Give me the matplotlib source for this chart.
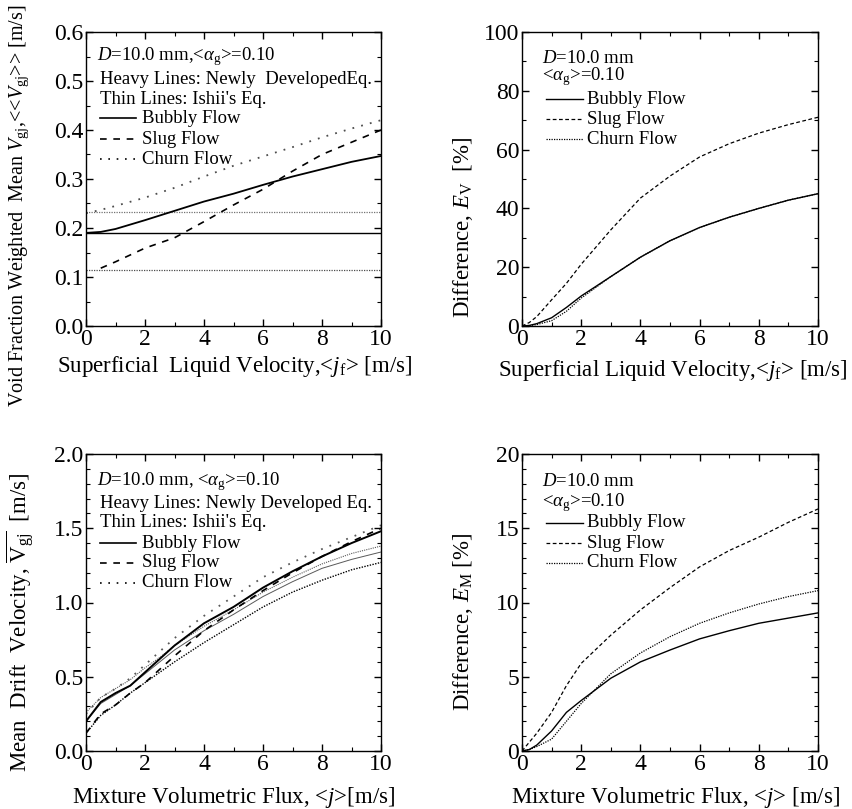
import numpy as np
import matplotlib
matplotlib.use("Agg")
import matplotlib.pyplot as plt
from matplotlib.ticker import MultipleLocator, FormatStrFormatter
from matplotlib.lines import Line2D

plt.rcParams['font.family'] = ['Liberation Serif', 'DejaVu Serif']
plt.rcParams['mathtext.fontset'] = 'custom'
plt.rcParams['mathtext.rm'] = 'Liberation Serif'
plt.rcParams['mathtext.it'] = 'Liberation Serif:italic'
plt.rcParams['mathtext.bf'] = 'Liberation Serif:bold'

# ---- panel (a): void fraction weighted mean drift velocity vs <jf>
jf = [0, 0.5, 1, 2, 3, 4, 5, 6, 7, 8, 9, 10]
vgj_bub_new = [0.190, 0.192, 0.198, 0.216, 0.235, 0.254, 0.270, 0.288, 0.305, 0.320, 0.335, 0.347]
vgj_slug_new = [None, 0.118, 0.131, 0.159, 0.180, 0.213, 0.247, 0.279, 0.316, 0.350, 0.375, 0.400]
vgj_churn_new = [0.230, 0.237, 0.245, 0.262, 0.282, 0.305, 0.327, 0.346, 0.365, 0.385, 0.403, 0.420]
jf_ishii = [0, 10]
vgj_bub_ishii = [0.190, 0.190]
vgj_slug_ishii = [0.115, 0.115]
vgj_churn_ishii = [0.232, 0.232]

# ---- panel (b): difference E_V vs <jf>
jf_e = [0, 0.25, 0.5, 1, 1.5, 2, 3, 4, 5, 6, 7, 8, 9, 10]
ev_bub = [0, 0.2, 0.8, 2.8, 6.3, 10.2, 16.8, 23.4, 29.0, 33.5, 37.0, 40.0, 42.8, 45.0]
ev_slug = [0, 1.2, 3.2, 8.9, 14.5, 21.0, 32.7, 43.5, 51.0, 57.5, 62.0, 65.6, 68.5, 71.0]
ev_churn = [0, 0.1, 0.5, 1.8, 5.0, 9.5, 16.8, 23.4, 29.0, 33.5, 37.0, 40.0, 42.8, 45.0]

# ---- panel (c): mean drift velocity vs <j>
j = [0, 0.5, 1, 1.5, 2, 2.5, 3, 4, 5, 6, 7, 8, 9, 10]
v_bub_new = [0.20, 0.33, 0.39, 0.44, 0.53, 0.62, 0.71, 0.86, 0.97, 1.10, 1.21, 1.31, 1.40, 1.48]
v_slug_new = [0.12, 0.25, 0.31, 0.39, 0.46, 0.55, 0.64, 0.81, 0.95, 1.08, 1.20, 1.31, 1.41, 1.50]
v_churn_new = [0.25, 0.36, 0.42, 0.49, 0.58, 0.67, 0.76, 0.91, 1.04, 1.17, 1.27, 1.36, 1.44, 1.52]
v_bub_ishii = [0.20, 0.32, 0.38, 0.44, 0.52, 0.60, 0.68, 0.81, 0.92, 1.04, 1.14, 1.23, 1.29, 1.34]
v_slug_ishii = [0.12, 0.24, 0.31, 0.39, 0.46, 0.53, 0.60, 0.73, 0.85, 0.97, 1.07, 1.15, 1.22, 1.27]
v_churn_ishii = [0.26, 0.36, 0.42, 0.48, 0.56, 0.63, 0.71, 0.84, 0.95, 1.07, 1.17, 1.26, 1.33, 1.38]

# ---- panel (d): difference E_M vs <j>
j_e = [0, 0.25, 0.5, 1, 1.5, 2, 3, 4, 5, 6, 7, 8, 9, 10]
em_bub = [0, 0.1, 0.4, 1.35, 2.6, 3.4, 4.9, 6.0, 6.8, 7.55, 8.1, 8.6, 8.95, 9.3]
em_slug = [0, 0.6, 1.2, 2.6, 4.4, 5.9, 7.8, 9.5, 11.0, 12.4, 13.5, 14.4, 15.4, 16.3]
em_churn = [0, 0.1, 0.3, 0.8, 2.0, 3.2, 5.2, 6.6, 7.7, 8.6, 9.3, 9.9, 10.4, 10.8]

TICK_FS = 17
LAB_FS = 16.5
TXT_FS = 13.5

heavy_dash = (0, (4, 4))
heavy_dot = (0, (1, 4))
thin_dot = (0, (1, 1))

fig = plt.figure(figsize=(8.53, 8.09), dpi=100)
W, H = 853, 809


def make_axes(left, top, right, bottom):
    return fig.add_axes([left / W, 1 - bottom / H, (right - left) / W, (bottom - top) / H])


def style(ax, xmax, ymax, ymaj, ymin):
    ax.set_xlim(0, xmax)
    ax.set_ylim(0, ymax)
    ax.xaxis.set_major_locator(MultipleLocator(2))
    ax.xaxis.set_minor_locator(MultipleLocator(1))
    ax.yaxis.set_major_locator(MultipleLocator(ymaj))
    ax.yaxis.set_minor_locator(MultipleLocator(ymin))
    ax.tick_params(which='both', direction='in', top=True, right=True, labelsize=TICK_FS, pad=2)
    ax.tick_params(which='major', length=5, width=1)
    ax.tick_params(which='minor', length=3, width=0.8)
    for s in ax.spines.values():
        s.set_linewidth(1.0)


def legend_lines(ax, x0, x1, xt, ys, styles, lws):
    names = ['Bubbly Flow', 'Slug Flow', 'Churn Flow']
    for y, ls, lw, name in zip(ys, styles, lws, names):
        ax.add_line(Line2D([x0, x1], [y, y], transform=ax.transAxes, color='k', ls=ls, lw=lw))
        ax.text(xt, y, name, transform=ax.transAxes, fontsize=TXT_FS, va='center', ha='left')


# (a)
ax1 = make_axes(86, 32, 381, 326)
style(ax1, 10, 0.6, 0.1, 0.05)
ax1.yaxis.set_major_formatter(FormatStrFormatter('%.1f'))
ax1.plot(jf_ishii, vgj_bub_ishii, color='k', lw=1.0)
ax1.plot(jf_ishii, vgj_slug_ishii, color='0.3', lw=0.9, ls=thin_dot)
ax1.plot(jf_ishii, vgj_churn_ishii, color='0.45', lw=0.9, ls=thin_dot)
ax1.plot(jf, vgj_bub_new, color='k', lw=1.3)
ax1.plot(jf[1:], vgj_slug_new[1:], color='k', lw=1.2, ls=heavy_dash)
ax1.plot(jf, vgj_churn_new, color='0.3', lw=1.3, ls=heavy_dot)
ax1.text(0.037, 0.915, r'$D$=10.0 mm,<$\alpha_\mathrm{g}$>=0.10', transform=ax1.transAxes,
         fontsize=TXT_FS, va='center')
ax1.text(0.047, 0.837, 'Heavy Lines: Newly  DevelopedEq.', transform=ax1.transAxes,
         fontsize=TXT_FS, va='center')
ax1.text(0.047, 0.769, "Thin Lines: Ishii's Eq.", transform=ax1.transAxes,
         fontsize=TXT_FS, va='center')
legend_lines(ax1, 0.047, 0.169, 0.19, [0.707, 0.636, 0.568],
             ['-', heavy_dash, heavy_dot], [1.2, 1.2, 1.2])
ax1.set_xlabel(r'Superficial  Liquid Velocity,<$j_\mathrm{f}$> [m/s]', fontsize=LAB_FS)
ax1.set_ylabel(r'Void Fraction Weighted  Mean $V_\mathrm{gj}$,<<$V_\mathrm{gj}$>> [m/s]', fontsize=14.5)
ax1.xaxis.set_label_coords(0.505, -0.139)
ax1.xaxis.label.set_va('center')
ax1.yaxis.set_label_coords(-0.225, 0.41)
ax1.yaxis.label.set_va('center')

# (b)
ax2 = make_axes(522, 32, 818, 326)
style(ax2, 10, 100, 20, 10)
ax2.plot(jf_e, ev_churn, color='k', lw=0.9, ls=thin_dot)
ax2.plot(jf_e, ev_bub, color='k', lw=1.0)
ax2.plot(jf_e, ev_slug, color='k', lw=0.9, ls=(0, (3, 2)))
ax2.text(0.068, 0.91, r'$D$=10.0 mm', transform=ax2.transAxes, fontsize=TXT_FS, va='center')
ax2.text(0.068, 0.847, r'<$\alpha_\mathrm{g}$>=0.10', transform=ax2.transAxes, fontsize=TXT_FS, va='center')
legend_lines(ax2, 0.081, 0.206, 0.22, [0.772, 0.704, 0.636],
             ['-', (0, (3, 2)), thin_dot], [1.0, 0.9, 0.9])
ax2.set_xlabel(r'Superficial Liquid Velocity,<$j_\mathrm{f}$> [m/s]', fontsize=LAB_FS)
ax2.set_ylabel(r'Difference, $E_\mathrm{V}$  [%]', fontsize=LAB_FS)
ax2.xaxis.set_label_coords(0.508, -0.15)
ax2.xaxis.label.set_va('center')
ax2.yaxis.set_label_coords(-0.2, 0.337)
ax2.yaxis.label.set_va('center')

# (c)
ax3 = make_axes(86, 454, 381, 751)
style(ax3, 10, 2.0, 0.5, 0.1)
ax3.yaxis.set_major_formatter(FormatStrFormatter('%.1f'))
ax3.plot(j, v_slug_ishii, color='k', lw=1.0, ls=thin_dot)
ax3.plot(j, v_bub_ishii, color='0.35', lw=0.7)
ax3.plot(j, v_churn_ishii, color='0.35', lw=0.8, ls=thin_dot)
ax3.plot(j, v_churn_new, color='0.35', lw=1.3, ls=heavy_dot)
ax3.plot(j, v_bub_new, color='k', lw=1.4)
ax3.plot(j, v_slug_new, color='k', lw=1.2, ls=heavy_dash)
ax3.text(0.037, 0.906, r'$D$=10.0 mm, <$\alpha_\mathrm{g}$>=0.10', transform=ax3.transAxes,
         fontsize=TXT_FS, va='center')
ax3.text(0.047, 0.835, 'Heavy Lines: Newly Developed Eq.', transform=ax3.transAxes,
         fontsize=TXT_FS, va='center')
ax3.text(0.047, 0.768, "Thin Lines: Ishii's Eq.", transform=ax3.transAxes,
         fontsize=TXT_FS, va='center')
legend_lines(ax3, 0.047, 0.169, 0.19, [0.70, 0.633, 0.566],
             ['-', heavy_dash, heavy_dot], [1.2, 1.2, 1.2])
ax3.set_xlabel(r'Mixture Volumetric Flux, <$j$>[m/s]', fontsize=LAB_FS)
ax3.set_ylabel(r'Mean  Drift  Velocity, $\overline{\mathrm{V}_\mathrm{gj}}$  [m/s]', fontsize=LAB_FS)
ax3.xaxis.set_label_coords(0.50, -0.155)
ax3.xaxis.label.set_va('center')
ax3.yaxis.set_label_coords(-0.225, 0.434)
ax3.yaxis.label.set_va('center')

# (d)
ax4 = make_axes(522, 454, 818, 751)
style(ax4, 10, 20, 5, 1)
ax4.plot(j_e, em_churn, color='k', lw=0.9, ls=thin_dot)
ax4.plot(j_e, em_bub, color='k', lw=1.0)
ax4.plot(j_e, em_slug, color='k', lw=0.9, ls=(0, (3, 2)))
ax4.text(0.068, 0.906, r'$D$=10.0 mm', transform=ax4.transAxes, fontsize=TXT_FS, va='center')
ax4.text(0.068, 0.838, r'<$\alpha_\mathrm{g}$>=0.10', transform=ax4.transAxes, fontsize=TXT_FS, va='center')
legend_lines(ax4, 0.081, 0.206, 0.22, [0.768, 0.70, 0.633],
             ['-', (0, (3, 2)), thin_dot], [1.0, 0.9, 0.9])
ax4.set_xlabel(r'Mixture Volumetric Flux, <$j$> [m/s]', fontsize=LAB_FS)
ax4.set_ylabel(r'Difference, $E_\mathrm{M}$ [%]', fontsize=LAB_FS)
ax4.xaxis.set_label_coords(0.52, -0.158)
ax4.xaxis.label.set_va('center')
ax4.yaxis.set_label_coords(-0.2, 0.434)
ax4.yaxis.label.set_va('center')

fig.savefig('out.png', dpi=100)
